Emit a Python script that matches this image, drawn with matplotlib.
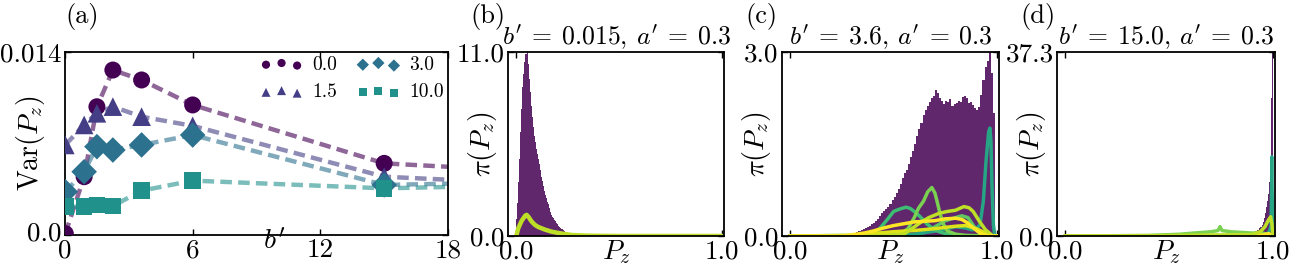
import numpy as np
import matplotlib
matplotlib.use("Agg")
import matplotlib.pyplot as plt
from matplotlib.transforms import ScaledTranslation

plt.rcParams['font.family'] = ['cmr10', 'DejaVu Serif']
plt.rcParams['mathtext.fontset'] = 'cm'
plt.rcParams['axes.unicode_minus'] = False

FS = 19.5

# ---------------- panel (a) data ----------------
b_vals = [0.015, 0.9, 1.5, 2.25, 3.6, 6.0, 15.0, 30.0]
series_labels = ['0.0', '1.5', '3.0', '10.0']
var_00 = [0.0001, 0.00446, 0.00981, 0.01262, 0.01186, 0.00995, 0.00548, 0.00418]
var_15 = [0.00689, 0.00842, 0.00931, 0.00982, 0.00905, 0.00835, 0.00446, 0.00330]
var_30 = [0.00331, 0.00484, 0.00676, 0.00650, 0.00689, 0.00765, 0.00383, 0.00430]
var_100 = [0.00217, 0.00217, 0.00230, 0.00222, 0.00339, 0.00416, 0.00357, 0.00410]
series_colors = ['#440154', '#433e85', '#2c718e', '#21918c']
series_markers = ['o', '^', 'D', 's']
a_xticks = [0, 6, 12, 18]
a_yticks = [0.0, 0.014]
a_yticklabels = ['0.0', '0.014']

# ---------------- panel (b) data ----------------
b_hist_edges = np.round(np.arange(0, 0.3001, 0.005), 4)
b_hist = [1.0, 2.0, 3.2, 4.6, 6.2, 7.6, 8.9, 9.7, 10.4, 10.9,
          11.0, 10.3, 9.4, 8.6, 7.8, 7.1, 6.5, 6.0, 5.6, 5.2,
          4.9, 4.6, 4.3, 3.95, 3.55, 3.3, 3.0, 2.7, 2.45, 2.25,
          2.05, 1.9, 1.65, 1.45, 1.25, 1.15, 1.05, 0.96, 0.88, 0.8,
          0.7, 0.62, 0.55, 0.5, 0.44, 0.38, 0.32, 0.26, 0.22, 0.18,
          0.15, 0.12, 0.09, 0.07, 0.05, 0.04, 0.03, 0.02, 0.02, 0.01]
b_line_x = [0.0, 0.01, 0.026, 0.043, 0.051, 0.059, 0.075, 0.091, 0.107, 0.14,
            0.172, 0.205, 0.237, 0.27, 0.35, 0.5, 1.0]
b_line_green = [0.02, 0.5, 0.95, 1.27, 1.32, 1.2, 0.9, 0.69, 0.56, 0.4,
                0.27, 0.19, 0.12, 0.06, 0.02, 0.0, 0.0]
b_line_ygreen = [0.0, 0.46, 0.9, 1.2, 1.25, 1.15, 0.86, 0.66, 0.54, 0.38,
                 0.26, 0.18, 0.12, 0.06, 0.02, 0.0, 0.0]

# ---------------- panel (c) data ----------------
c_hist_edges = np.round(np.arange(0, 1.0001, 0.01), 4)
c_hist = [0.0] * 25 + [
    0.01, 0.01, 0.02, 0.02, 0.03,
    0.04, 0.05, 0.06, 0.08, 0.10,
    0.12, 0.13, 0.15, 0.17, 0.19,
    0.22, 0.25, 0.28, 0.33, 0.37,
    0.40, 0.44, 0.47, 0.52, 0.58,
    0.63, 0.70, 0.76, 0.84, 0.94,
    1.02, 1.08, 1.17, 1.28, 1.38,
    1.50, 1.63, 1.74, 1.84, 1.98,
    2.06, 2.12, 2.18, 2.25, 2.29,
    2.38, 2.33, 2.25, 2.20, 2.15,
    2.20, 2.18, 2.24, 2.12, 2.15,
    2.17, 2.20, 2.18, 2.26, 2.28,
    2.25, 2.17, 2.19, 2.14, 2.08,
    2.06, 2.10, 2.30, 2.55, 2.75,
    2.85, 3.00, 2.65, 2.00, 0.0]
c_teal_x = [0.0, 0.5, 0.6, 0.7, 0.76, 0.8, 0.85, 0.88, 0.9, 0.918, 0.934, 0.947,
            0.96, 0.966, 0.971, 0.976, 0.983, 0.99, 1.0]
c_teal_y = [0.0, 0.0, 0.03, 0.08, 0.12, 0.15, 0.13, 0.1, 0.12, 0.18, 0.56, 1.21,
            1.70, 1.76, 1.54, 0.83, 0.18, 0.0, 0.0]
c_green_x = [0.0, 0.30, 0.38, 0.42, 0.44, 0.47, 0.50, 0.53, 0.56, 0.58, 0.60, 0.63,
             0.66, 0.69, 0.72, 0.75, 0.80, 0.85, 1.0]
c_green_y = [0.0, 0.0, 0.02, 0.08, 0.15, 0.27, 0.40, 0.44, 0.47, 0.45, 0.40, 0.31,
             0.20, 0.12, 0.07, 0.04, 0.01, 0.0, 0.0]
c_lgreen_x = [0.0, 0.40, 0.48, 0.54, 0.57, 0.60, 0.62, 0.645, 0.665, 0.685, 0.70,
              0.71, 0.725, 0.74, 0.76, 0.80, 0.85, 1.0]
c_lgreen_y = [0.0, 0.0, 0.03, 0.05, 0.12, 0.30, 0.45, 0.57, 0.72, 0.79, 0.70,
              0.57, 0.36, 0.20, 0.08, 0.03, 0.01, 0.0]
c_green2_x = [0.0, 0.6, 0.65, 0.7, 0.75, 0.8, 0.83, 0.86, 0.89, 0.92, 0.95, 1.0]
c_green2_y = [0.0, 0.02, 0.06, 0.15, 0.25, 0.30, 0.33, 0.30, 0.15, 0.05, 0.01, 0.0]
c_ygreen_x = [0.0, 0.45, 0.55, 0.58, 0.63, 0.67, 0.72, 0.76, 0.80, 0.84, 0.865,
              0.885, 0.915, 0.945, 0.97, 0.98, 1.0]
c_ygreen_y = [0.0, 0.0, 0.03, 0.10, 0.22, 0.30, 0.37, 0.40, 0.42, 0.48, 0.46,
              0.40, 0.24, 0.10, 0.03, 0.0, 0.0]
c_yellow2_x = [0.0, 0.3, 0.4, 0.5, 0.6, 0.7, 0.8, 0.85, 0.9, 0.95, 0.98, 1.0]
c_yellow2_y = [0.0, 0.01, 0.04, 0.07, 0.09, 0.12, 0.16, 0.17, 0.12, 0.04, 0.0, 0.0]
c_yellow_x = [0.0, 0.25, 0.30, 0.36, 0.40, 0.45, 0.50, 0.55, 0.60, 0.65, 0.70, 0.75,
              0.80, 0.83, 0.86, 0.89, 0.92, 0.95, 1.0]
c_yellow_y = [0.0, 0.0, 0.02, 0.05, 0.08, 0.13, 0.17, 0.20, 0.23, 0.24, 0.25, 0.28,
              0.29, 0.27, 0.21, 0.12, 0.04, 0.01, 0.0]

# ---------------- panel (d) data ----------------
d_hist_edges = [0.0, 0.85] + list(np.round(np.arange(0.855, 1.0001, 0.005), 4))
d_hist = [0.0, 0.35, 0.38, 0.42, 0.46, 0.5, 0.55, 0.6, 0.65, 0.7, 0.75, 0.8, 0.85,
          0.9, 0.95, 1.0, 1.15, 1.3, 1.55, 1.8, 2.3, 2.9, 3.6, 4.6, 5.8, 7.0,
          8.5, 11.0, 15.5, 28.0, 37.3]
d_teal_x = [0.0, 0.9, 0.96, 0.98, 0.99, 0.995, 1.0]
d_teal_y = [0.0, 0.0, 0.2, 0.8, 2.0, 16.1, 0.0]
d_lgreen_x = [0.0, 0.4, 0.55, 0.62, 0.7, 0.735, 0.745, 0.755, 0.8, 0.86, 0.9, 0.95, 1.0]
d_lgreen_y = [0.0, 0.1, 0.35, 0.6, 0.85, 1.1, 1.9, 1.1, 0.85, 0.7, 0.6, 0.6, 0.0]
d_ygreen_x = [0.0, 0.5, 0.9, 0.94, 0.962, 0.978, 0.989, 0.995, 1.0]
d_ygreen_y = [0.0, 0.1, 0.3, 0.9, 1.9, 3.2, 3.9, 2.5, 0.0]
d_yellow_x = [0.0, 0.5, 0.9, 0.95, 0.98, 1.0]
d_yellow_y = [0.0, 0.05, 0.1, 0.2, 0.5, 0.0]

hist_color = '#440154'
col_teal = '#25a584'
col_green = '#3dbc74'
col_lgreen = '#7ad151'
col_green2 = '#5ec962'
col_ygreen = '#bddf26'
col_yellow = '#fde725'
col_yellow2 = '#dde318'

fig = plt.figure(figsize=(13, 2.63), dpi=100)
W, H = 1300, 263


def add_ax(l, r, t, b):
    return fig.add_axes([l / W, 1 - b / H, (r - l) / W, (b - t) / H])


def style(ax):
    ax.tick_params(direction='in', top=True, right=True, length=4, width=1,
                   labelsize=FS, pad=2.5)
    for s in ax.spines.values():
        s.set_linewidth(1.3)


# ---- (a)
axa = add_ax(65, 448, 52, 235)
ser_vals = [var_00, var_15, var_30, var_100]
for vals, col, mk, lab in zip(ser_vals, series_colors, series_markers, series_labels):
    ln, = axa.plot(b_vals, vals, color=col, lw=3.2, alpha=0.6, zorder=2)
    ln.set_dashes((2.6, 1.4))
    ms = {'o': 150, '^': 180, 'D': 170, 's': 140}[mk]
    axa.scatter(b_vals, vals, s=ms, marker=mk, color=col, edgecolors='none',
                zorder=3, label=lab)
axa.set_xlim(0, 18)
axa.set_ylim(0, 0.014)
axa.set_xticks(a_xticks)
axa.set_xticklabels([str(t) for t in a_xticks])
axa.set_yticks(a_yticks)
axa.set_yticklabels(a_yticklabels)
style(axa)
# nudge the lowest y label up a few pixels so it does not run into the "0" x label
lbl0 = axa.get_yticklabels()[0]
lbl0.set_transform(lbl0.get_transform() + ScaledTranslation(0, 4 / 100, fig.dpi_scale_trans))
axa.text(0.545, 0.03, r"$b'$", transform=axa.transAxes, ha='center', va='top',
         fontsize=20)
axa.set_ylabel(r'Var$(P_z)$', fontsize=20)
axa.yaxis.set_label_coords(-0.047, 0.5)
leg = axa.legend(loc='upper right', bbox_to_anchor=(1.0, 1.0), ncol=2,
                 frameon=False, scatterpoints=3,
                 markerscale=0.48, fontsize=14, handletextpad=0.5,
                 columnspacing=1.0, borderaxespad=0.0, borderpad=0.2,
                 labelspacing=0.5, handlelength=2.2)

# ---- (b), (c), (d)
axb = add_ax(508, 724, 52, 236)
axc = add_ax(782, 999, 52, 236)
axd = add_ax(1057, 1275, 52, 236)

axb.stairs(b_hist, b_hist_edges, fill=True, color=hist_color, alpha=0.85, lw=0)
axb.plot(b_line_x, b_line_green, color=col_lgreen, lw=2.0)
axb.plot(b_line_x, b_line_ygreen, color=col_ygreen, lw=3.2)

axc.stairs(c_hist, c_hist_edges, fill=True, color=hist_color, alpha=0.85, lw=0)
axc.plot(c_green2_x, c_green2_y, color=col_green2, lw=2.5)
axc.plot(c_teal_x, c_teal_y, color=col_teal, lw=2.5)
axc.plot(c_green_x, c_green_y, color=col_green, lw=2.5)
axc.plot(c_lgreen_x, c_lgreen_y, color=col_lgreen, lw=2.5)
axc.plot(c_yellow2_x, c_yellow2_y, color=col_yellow2, lw=2.5)
axc.plot(c_ygreen_x, c_ygreen_y, color=col_ygreen, lw=2.5)
axc.plot(c_yellow_x, c_yellow_y, color=col_yellow, lw=2.5)

axd.stairs(d_hist, d_hist_edges, fill=True, color=hist_color, alpha=0.85, lw=0)
axd.plot(d_teal_x, d_teal_y, color=col_teal, lw=2.2)
axd.plot(d_lgreen_x, d_lgreen_y, color=col_lgreen, lw=2.5)
axd.plot(d_yellow_x, d_yellow_y, color=col_yellow, lw=2.5)
axd.plot(d_ygreen_x, d_ygreen_y, color=col_ygreen, lw=2.5)

titles = [r"$b'\:=\:0.015,\:a'\:=\:0.3$", r"$b'\:=\:3.6,\:a'\:=\:0.3$",
          r"$b'\:=\:15.0,\:a'\:=\:0.3$"]
ymaxes = [11.0, 3.0, 37.3]
for ax, ttl, ym in zip([axb, axc, axd], titles, ymaxes):
    ax.set_xlim(-0.04, 1.01)
    ax.set_ylim(0, ym)
    ax.set_xticks([0.0, 1.0])
    ax.set_xticklabels(['0.0', '1.0'])
    ax.set_yticks([0.0, ym])
    ax.set_yticklabels(['0.0', f'{ym:.1f}'])
    style(ax)
    ax.set_title(ttl, fontsize=18.5, pad=5.5)
    ax.set_ylabel(r'$\pi(P_z)$', fontsize=20)
    ax.yaxis.set_label_coords(-0.04, 0.5)
    ax.text(0.5, -0.01, r'$P_z$', transform=ax.transAxes, ha='center', va='top',
            fontsize=20)

for lab, px in zip(['(a)', '(b)', '(c)', '(d)'], [65, 470, 745, 1020]):
    fig.text(px / W, 1 - 16 / H, lab, ha='left', va='center', fontsize=19)

fig.savefig('out.png', dpi=100)
